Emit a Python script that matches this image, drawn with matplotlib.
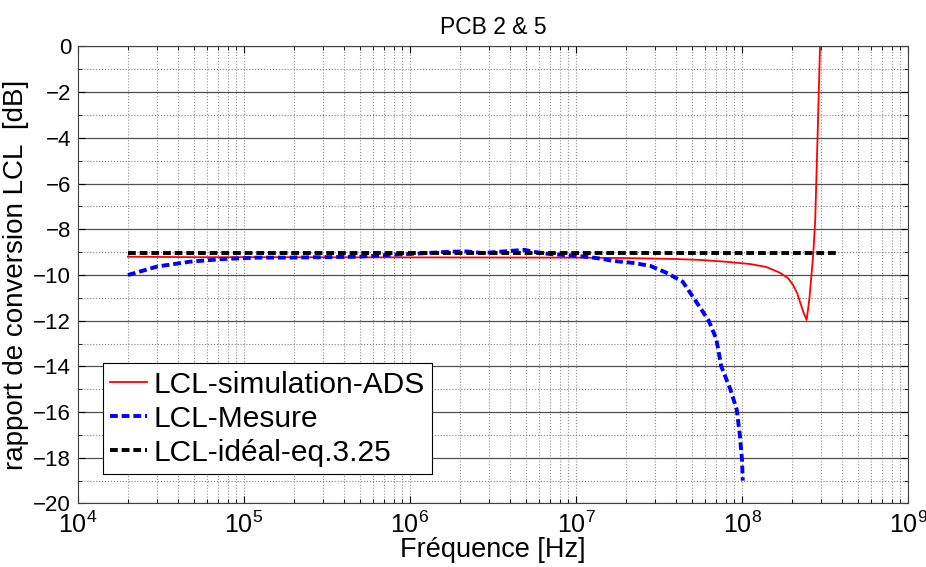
import matplotlib
matplotlib.use("Agg")
import matplotlib.pyplot as plt
from matplotlib.ticker import LogLocator, MultipleLocator, NullFormatter

plt.rcParams['font.family'] = ['Liberation Sans', 'DejaVu Sans']
plt.rcParams['mathtext.fontset'] = 'custom'
plt.rcParams['mathtext.rm'] = 'Liberation Sans'

# LCL simulation (ADS)
sim_freq = [2e4, 5e4, 1e5, 1e6, 1e7, 2e7, 4e7, 5.6e7, 8e7, 1.12e8, 1.4e8,
            1.69e8, 1.9e8, 2.03e8, 2.15e8, 2.24e8, 2.35e8, 2.45e8, 2.55e8,
            2.62e8, 2.69e8, 2.76e8, 2.85e8, 2.95e8]
sim_db = [-9.2, -9.22, -9.22, -9.23, -9.24, -9.26, -9.3, -9.34, -9.42, -9.52,
          -9.65, -9.9, -10.15, -10.44, -10.8, -11.2, -11.65, -11.97, -11.0,
          -10.0, -9.0, -7.6, -4.0, 0.0]

# LCL measurement
mes_freq = [2e4, 3e4, 4.7e4, 7.5e4, 1.2e5, 1.9e5, 3e5, 4.8e5, 7.6e5, 1.2e6,
            1.74e6, 2.2e6, 2.75e6, 3.5e6, 4.9e6, 5.5e6, 6.9e6, 1.05e7, 1.4e7,
            1.66e7, 2.2e7, 2.8e7, 3.5e7, 4.4e7, 5.0e7, 5.8e7, 6.3e7, 7.0e7,
            7.5e7, 8.5e7, 9.3e7, 9.7e7, 1.0e8, 1.01e8]
mes_db = [-10.0, -9.63, -9.42, -9.3, -9.24, -9.24, -9.22, -9.2, -9.12, -9.05,
          -8.98, -8.97, -9.04, -8.98, -8.9, -8.98, -9.08, -9.17, -9.28, -9.38,
          -9.47, -9.6, -9.9, -10.3, -10.9, -11.6, -12.0, -12.8, -14.0, -15.0,
          -15.9, -17.0, -18.1, -19.0]

# ideal LCL (eq. 3.25)
ideal_freq = [2e4, 3.8e8]
ideal_db = [-9.05, -9.05]

fig = plt.figure(figsize=(9.26, 5.67), dpi=100)
ax = fig.add_axes([0.0842, 0.112, 0.8964, 0.806])

ax.semilogx(sim_freq, sim_db, color='red', linewidth=1.3,
            label='LCL-simulation-ADS')
ax.semilogx(mes_freq, mes_db, color='blue', linewidth=2.8,
            dashes=(2.0, 1.0), label='LCL-Mesure')
ax.semilogx(ideal_freq, ideal_db, color='black', linewidth=2.8,
            dashes=(2.0, 1.0), label='LCL-idéal-eq.3.25')

ax.set_xlim(1e4, 1e9)
ax.set_ylim(-20, 0)
ax.xaxis.set_major_locator(LogLocator(base=10, numticks=10))
ax.xaxis.set_minor_locator(LogLocator(base=10, subs=range(2, 10), numticks=20))
ax.xaxis.set_minor_formatter(NullFormatter())
ax.yaxis.set_major_locator(MultipleLocator(2))
ax.yaxis.set_minor_locator(MultipleLocator(1))

ax.grid(True, which='major', axis='y', linestyle='-', color='#505050', linewidth=0.9)
ax.grid(True, which='minor', axis='y', linestyle=':', color='#808080', linewidth=0.8)
ax.grid(True, which='both', axis='x', linestyle=':', color='#909090', linewidth=0.8)

ax.tick_params(which='both', direction='in', top=True, right=True)
ax.tick_params(which='major', length=5, width=0.8)
ax.tick_params(which='minor', length=3, width=0.6)
ax.tick_params(axis='x', labelsize=18, pad=6)
ax.tick_params(axis='y', labelsize=16, pad=5)
for s in ax.spines.values():
    s.set_color('#404040')

ax.set_title('PCB 2 & 5', fontsize=16.5, pad=9)
ax.set_xlabel('Fréquence [Hz]', fontsize=19.5, labelpad=-1)
ax.set_ylabel('rapport de conversion LCL  [dB]', fontsize=20, labelpad=3)

leg = ax.legend(loc='lower left', bbox_to_anchor=(0.0298, 0.0646),
                borderaxespad=0, fontsize=21.5, fancybox=False, framealpha=1,
                handlelength=1.25, handletextpad=0.2, labelspacing=0.2,
                borderpad=0.25)
leg.get_frame().set_edgecolor('black')
leg.get_frame().set_linewidth(0.8)

fig.savefig('out.png', dpi=100)
